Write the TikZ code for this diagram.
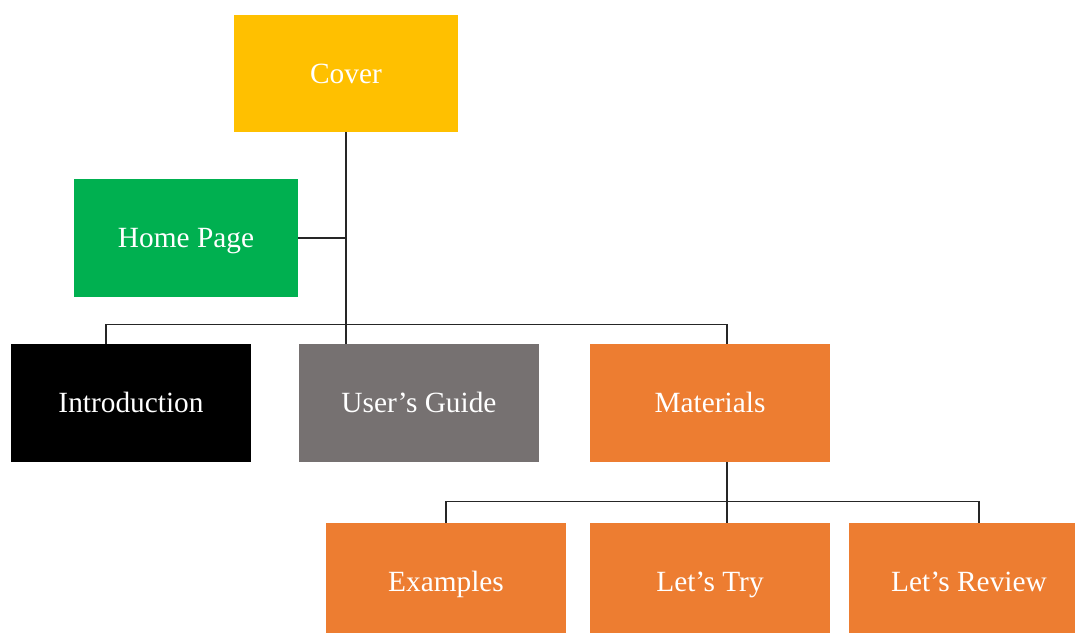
\documentclass[tikz,border=0pt]{standalone}
\usepackage{fontspec}
\setmainfont{Liberation Serif}
\definecolor{coverY}{HTML}{FFC000}
\definecolor{homeG}{HTML}{00B050}
\definecolor{guideG}{HTML}{767171}
\definecolor{matO}{HTML}{ED7D31}
\begin{document}
\begin{tikzpicture}[x=0.75pt,y=-0.75pt,
  box/.style={draw=none,inner sep=0pt,text=white,
    font=\fontsize{22}{25}\selectfont,text height=14.5pt,text depth=0pt},
  childbox/.style={box,fill=matO,minimum height=82.5pt,text height=20.5pt},
  wire/.style={draw=black!85,line width=0.8pt}]
\useasboundingbox (0,0) rectangle (1075,634);
% top and second level
\node[box,fill=coverY,minimum width=168pt,minimum height=87.75pt] (cover) at (346,73.5) {Cover};
\node[box,fill=homeG,minimum width=168pt,minimum height=88.5pt] (home) at (186,238) {Home Page};
% third level
\node[box,fill=black,minimum width=180pt,minimum height=88.5pt] (intro) at (131,403) {Introduction};
\node[box,fill=guideG,minimum width=180pt,minimum height=88.5pt] (guide) at (419,403) {User’s Guide};
\node[box,fill=matO,minimum width=180pt,minimum height=88.5pt] (mat) at (710,403) {Materials};
% materials children
\node[childbox,minimum width=180pt] (ex) at (446,578) {Examples};
\node[childbox,minimum width=180pt] (try) at (710,578) {Let’s Try};
\node[childbox,minimum width=169.5pt] (rev) at (962,578) {\hspace*{10.5pt}Let’s Review};
% connectors
\draw[wire] (cover.south) -- (cover.south |- guide.north);
\draw[wire] (home.east) -- (home.east -| cover.south);
\draw[wire] ([xshift=-18.75pt]intro.north) -- ++(0,-19) -| ([xshift=12.75pt]mat.north);
\draw[wire] ([xshift=12.75pt]mat.south) -- ([xshift=12.75pt]try.north);
\draw[wire] (ex.north) -- ++(0,-21) -| ([xshift=12.75pt]rev.north);
\end{tikzpicture}
\end{document}
